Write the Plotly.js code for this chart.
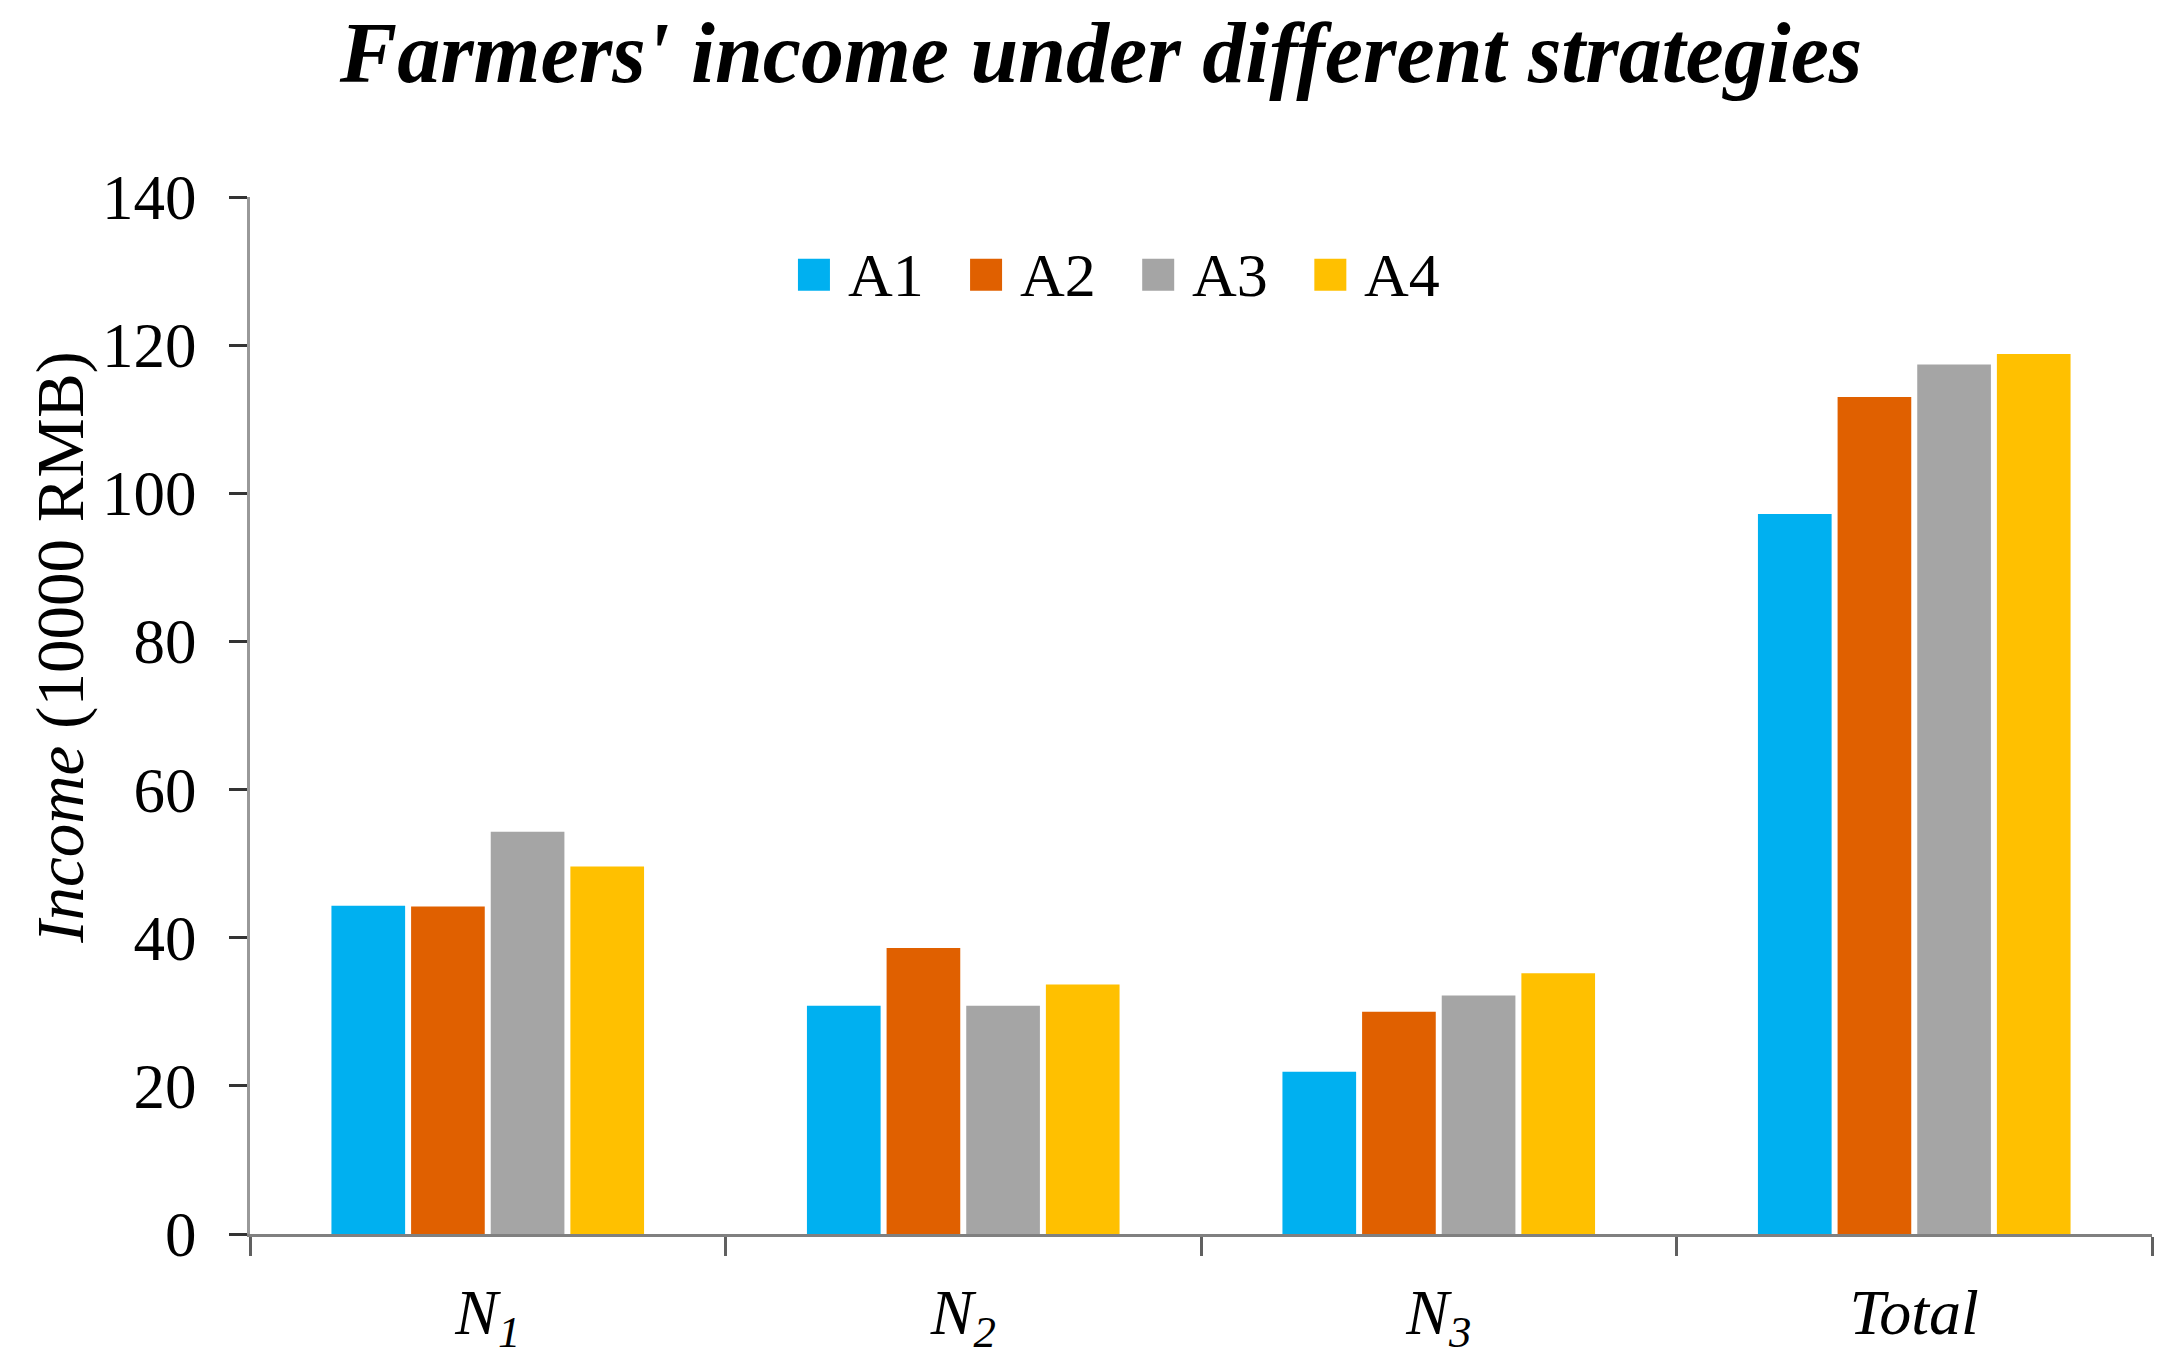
<!DOCTYPE html>
<html>
<head>
<meta charset="utf-8">
<script src="https://cdn.plot.ly/plotly-3.0.1.min.js"></script>
<style>
	html, body { margin: 0; padding: 0; background: #fff; }
	#chart { width: 2176px; height: 1370px; }
</style>
</head>
<body>
<div id="chart"></div>
<script>
// data ------------------------------------------------------------------------
const categories = ["N1", "N2", "N3", "Total"];
const tickLabels = ["<i>N<sub>1</sub></i>", "<i>N<sub>2</sub></i>", "<i>N<sub>3</sub></i>", "<i>Total</i>"];
const seriesNames = ["A1", "A2", "A3", "A4"];
const seriesColors = ["#00B0F0", "#E06000", "#A5A5A5", "#FFC000"];

const a1 = [44.3, 30.8, 21.9, 97.2];
const a2 = [44.2, 38.6, 30.0, 113.0];
const a3 = [54.3, 30.8, 32.2, 117.4];
const a4 = [49.6, 33.7, 35.2, 118.8];
const seriesValues = [a1, a2, a3, a4];

// chart -----------------------------------------------------------------------
const font = "Liberation Serif, Times New Roman, serif";

var data = seriesNames.map((name, i) => ({
	x: categories,
	y: seriesValues[i],
	name: name,
	type: "bar",
	marker: { color: seriesColors[i] },
	showlegend: false,
	hoverinfo: "y",
}));

// legend drawn by hand so the squares can be big like the original
var legendShapes = [];
var legendText = [];
var legX0 = 0.2965, legStep = 0.0905, legY = 0.925;
seriesNames.forEach((name, i) => {
	var cx = legX0 + i * legStep;
	legendShapes.push({
		type: "rect", xref: "paper", yref: "paper",
		xsizemode: "pixel", ysizemode: "pixel",
		xanchor: cx, yanchor: legY,
		x0: -16, x1: 16, y0: -16, y1: 16,
		fillcolor: seriesColors[i], line: { width: 0 },
	});
	legendText.push({
		xref: "paper", yref: "paper", x: cx, y: legY,
		xanchor: "left", yanchor: "middle", xshift: 32,
		text: name, showarrow: false,
		font: { family: font, size: 62, color: "#000" },
	});
});

var layout = {
	width: 2176,
	height: 1370,
	margin: { l: 250, r: 24, t: 197, b: 136 },
	paper_bgcolor: "#fff",
	plot_bgcolor: "#fff",
	font: { family: font, color: "#000" },
	title: {
		text: "<b><i>Farmers' income under different strategies</i></b>",
		font: { family: font, size: 86, color: "#000" },
		x: 0.506, xanchor: "center",
		y: 0.962, yanchor: "middle",
	},
	barmode: "group",
	bargap: 0.33,
	bargroupgap: 0.075,
	xaxis: {
		type: "category",
		tickvals: categories,
		ticktext: tickLabels,
		tickfont: { family: font, size: 64 },
		showline: true, linecolor: "#808080", linewidth: 3,
		ticks: "outside", tickson: "boundaries",
		ticklen: 19, tickwidth: 3, tickcolor: "#606060",
		ticklabelstandoff: 20,
		showgrid: false, zeroline: false,
	},
	yaxis: {
		range: [0, 140],
		dtick: 20,
		tickfont: { family: font, size: 63 },
		showline: true, linecolor: "#999999", linewidth: 3,
		ticks: "outside", ticklen: 18, tickwidth: 3, tickcolor: "#333",
		ticklabelstandoff: 20,
		showgrid: false, zeroline: false,
	},
	shapes: legendShapes,
	annotations: legendText.concat([
		{
			xref: "paper", yref: "paper", x: -0.1, y: 0.566,
			xanchor: "center", yanchor: "middle", textangle: -90,
			text: "<i>Income</i> (10000 RMB)", showarrow: false,
			font: { family: font, size: 67, color: "#000" },
		},
	]),
};

Plotly.newPlot("chart", data, layout, { staticPlot: true });
</script>
</body>
</html>
